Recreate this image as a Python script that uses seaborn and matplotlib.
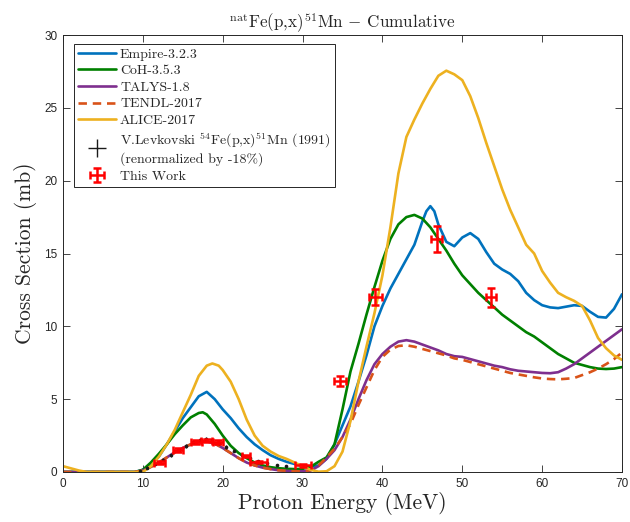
import numpy as np
import pandas as pd
import matplotlib
matplotlib.use("Agg")
import matplotlib.pyplot as plt
import seaborn as sns
from matplotlib.lines import Line2D

# ---------------- data ----------------
empire_E = [0, 9, 10, 11, 12, 13, 14, 15, 16, 17, 18, 19, 20, 21, 22, 23, 24, 25, 26, 27, 28, 29, 30, 31, 32,
            33, 34, 35, 36, 37, 38, 39, 40, 41, 42, 43, 44, 45, 45.5, 46, 46.5, 47, 48, 49, 50, 51, 52, 53, 54,
            55, 56, 57, 58, 59, 60, 61, 62, 63, 64, 65, 66, 67, 68, 69, 70]
empire_xs = [0, 0, 0.15, 0.55, 1.05, 1.9, 2.8, 3.7, 4.45, 5.2, 5.5, 5.0, 4.3, 3.7, 3.0, 2.4, 1.9, 1.5, 1.15, 0.9,
             0.7, 0.55, 0.42, 0.35, 0.45, 0.9, 1.9, 3.2, 4.5, 6.2, 8.0, 10.0, 11.4, 12.6, 13.6, 14.6, 15.6, 17.2,
             17.9, 18.25, 17.9, 17.0, 15.8, 15.5, 16.1, 16.4, 16.0, 15.1, 14.3, 13.9, 13.6, 13.1, 12.3, 11.8, 11.45,
             11.3, 11.25, 11.35, 11.45, 11.4, 11.0, 10.65, 10.6, 11.2, 12.2]

coh_E = [0, 9, 10, 11, 12, 13, 14, 15, 16, 17, 17.5, 18, 19, 20, 21, 22, 23, 24, 25, 26, 27, 28, 29, 30, 31, 32,
         33, 34, 35, 36, 37, 38, 39, 40, 41, 42, 43, 44, 45, 46, 47, 48, 49, 50, 51, 52, 53, 54, 55, 56, 57, 58,
         59, 60, 61, 62, 63, 64, 65, 66, 67, 68, 69, 70]
coh_xs = [0, 0, 0.15, 0.65, 1.25, 1.9, 2.6, 3.2, 3.75, 4.05, 4.1, 3.95, 3.3, 2.5, 1.8, 1.3, 0.95, 0.65, 0.45, 0.33,
          0.26, 0.22, 0.2, 0.22, 0.35, 0.7, 1.0, 1.9, 4.3, 6.9, 8.8, 10.8, 12.7, 14.5, 16.0, 17.0, 17.5, 17.65,
          17.4, 16.8, 16.0, 15.2, 14.3, 13.5, 12.9, 12.3, 11.8, 11.3, 10.8, 10.4, 10.0, 9.6, 9.3, 8.9, 8.5, 8.1,
          7.8, 7.5, 7.35, 7.2, 7.1, 7.07, 7.1, 7.2]

talys_E = [0, 9, 10, 11, 12, 13, 14, 15, 16, 17, 18, 19, 20, 21, 22, 23, 24, 25, 26, 27, 28, 29, 30, 31, 32, 33,
           34, 35, 36, 37, 38, 39, 40, 41, 42, 43, 44, 45, 46, 47, 48, 49, 50, 51, 52, 53, 54, 55, 56, 57, 58, 59,
           60, 61, 62, 63, 64, 65, 66, 67, 68, 69, 70]
talys_xs = [0, 0, 0.1, 0.35, 0.65, 1.0, 1.35, 1.65, 1.9, 2.05, 2.1, 1.95, 1.65, 1.3, 0.95, 0.65, 0.45, 0.3, 0.2,
            0.12, 0.08, 0.05, 0.05, 0.1, 0.4, 0.9, 1.5, 2.4, 3.6, 5.0, 6.3, 7.4, 8.1, 8.6, 8.95, 9.05, 8.95, 8.75,
            8.55, 8.35, 8.1, 7.95, 7.9, 7.75, 7.6, 7.45, 7.3, 7.2, 7.05, 6.95, 6.9, 6.85, 6.8, 6.78, 6.85, 7.1,
            7.4, 7.8, 8.2, 8.6, 9.0, 9.4, 9.8]

tendl_E = talys_E
tendl_xs = [0, 0, 0.1, 0.35, 0.65, 1.0, 1.35, 1.65, 1.9, 2.05, 2.1, 1.95, 1.65, 1.3, 0.95, 0.65, 0.45, 0.3, 0.2,
            0.12, 0.08, 0.05, 0.05, 0.12, 0.45, 1.0, 1.6, 2.4, 3.3, 4.6, 5.8, 7.0, 7.9, 8.4, 8.65, 8.7, 8.6, 8.45,
            8.3, 8.15, 8.0, 7.8, 7.7, 7.55, 7.4, 7.25, 7.1, 6.95, 6.8, 6.7, 6.6, 6.5, 6.42, 6.38, 6.36, 6.4, 6.45,
            6.65, 6.85, 7.1, 7.4, 7.75, 8.2]

alice_E = [0, 1, 2, 3, 10, 11, 12, 13, 14, 15, 16, 17, 18, 18.7, 19.5, 20, 21, 22, 23, 24, 25, 26, 27, 28, 29,
           30, 31, 32, 33, 34, 35, 36, 37, 38, 39, 40, 41, 42, 43, 44, 45, 46, 47, 48, 49, 50, 51, 52, 53, 54, 55,
           56, 57, 58, 59, 60, 61, 62, 63, 64, 65, 66, 67, 68, 69, 70]
alice_xs = [0.4, 0.25, 0.1, 0, 0, 0.4, 1.05, 1.9, 2.9, 4.1, 5.3, 6.6, 7.3, 7.45, 7.3, 7.0, 6.2, 5.0, 3.6, 2.5,
            1.8, 1.4, 1.1, 0.9, 0.65, 0.4, 0.15, 0.02, 0.05, 0.4, 1.4, 3.5, 6.2, 8.6, 10.9, 13.5, 16.8, 20.5, 23.0,
            24.2, 25.3, 26.3, 27.2, 27.55, 27.3, 26.9, 25.8, 24.3, 22.6, 21.0, 19.4, 18.0, 16.8, 15.6, 15.0, 13.8,
            13.0, 12.3, 12.0, 11.75, 11.4, 10.4, 9.2, 8.5, 8.0, 7.7]

lev_E = [9.6, 10.5, 11.5, 12.5, 13.5, 14.5, 15.4, 16.3, 17.1, 17.9, 18.7, 19.5, 20.4, 21.4, 22.4, 23.4, 24.4,
         25.6, 26.8, 27.9]
lev_xs = [0.08, 0.3, 0.55, 0.85, 1.15, 1.5, 1.8, 2.05, 2.2, 2.25, 2.2, 2.0, 1.7, 1.45, 1.2, 0.95, 0.75, 0.6,
          0.45, 0.38]
lev_err = [0.05, 0.08, 0.1, 0.1, 0.1, 0.12, 0.12, 0.12, 0.14, 0.14, 0.14, 0.12, 0.12, 0.1, 0.1, 0.08, 0.08,
           0.06, 0.05, 0.05]

tw_E = [12.1, 14.4, 16.7, 18.0, 19.4, 22.9, 24.5, 30.0, 34.7, 39.1, 46.8, 53.6]
tw_xs = [0.65, 1.5, 2.05, 2.15, 2.05, 1.1, 0.7, 0.45, 6.25, 12.0, 16.0, 12.0]
tw_dE = [0.7, 0.6, 0.7, 0.7, 0.6, 0.5, 1.1, 1.0, 0.8, 0.8, 0.7, 0.6]
tw_dxs = [0.12, 0.12, 0.12, 0.12, 0.12, 0.1, 0.08, 0.08, 0.35, 0.55, 0.9, 0.65]

models = [
    ("Empire-3.2.3", empire_E, empire_xs, "#0072BD", "-"),
    ("CoH-3.5.3", coh_E, coh_xs, "#008000", "-"),
    ("TALYS-1.8", talys_E, talys_xs, "#7E2F8E", "-"),
    ("TENDL-2017", tendl_E, tendl_xs, "#D95319", "--"),
    ("ALICE-2017", alice_E, alice_xs, "#EDB120", "-"),
]

# ---------------- style ----------------
sns.set_theme(style="ticks")
plt.rcParams["font.family"] = ["Liberation Sans", "DejaVu Sans"]
plt.rcParams["mathtext.fontset"] = "cm"
plt.rcParams["axes.unicode_minus"] = False

fig = plt.figure(figsize=(6.3, 5.22), dpi=100)
ax = fig.add_axes([63 / 630, 50 / 522, 559 / 630, 437 / 522])

handles = []
for name, E, xs, col, ls in models:
    df = pd.DataFrame({"E": E, "xs": xs})
    sns.lineplot(data=df, x="E", y="xs", ax=ax, color=col, lw=1.9, linestyle=ls,
                 estimator=None, sort=False, zorder=2)
    h = Line2D([], [], color=col, lw=1.9, linestyle=ls)
    if ls == "--":
        h.set_dashes((3.2, 2.2))
    handles.append(h)
for ln in ax.lines:
    if ln.get_linestyle() == "--":
        ln.set_dashes((3.2, 2.2))

ax.errorbar(lev_E, lev_xs, yerr=lev_err, fmt="o", ms=1.6, color="k", ecolor="k", elinewidth=1.0,
            capsize=0, zorder=3)
handles.append(Line2D([], [], color="k", marker="+", ls="none", markersize=13, mew=1.0))

tw = ax.errorbar(tw_E, tw_xs, xerr=tw_dE, yerr=tw_dxs, fmt="none", ecolor="#FF0000", elinewidth=1.8,
                 capsize=3, capthick=1.8, zorder=4)
handles.append(tw)

labels = [m[0] for m in models] + [
    "V.Levkovski $^{54}$Fe(p,x)$^{51}$Mn (1991)\n(renormalized by -18%)",
    "This Work",
]

ax.set_xlim(0, 70)
ax.set_ylim(0, 30)
ax.set_xticks(np.arange(0, 71, 10))
ax.set_yticks(np.arange(0, 31, 5))
ax.tick_params(direction="in", top=True, right=True, length=5, width=0.6, labelsize=8.5,
               colors="#262626", pad=4)
for sp in ax.spines.values():
    sp.set_color("#262626")
    sp.set_linewidth(0.7)

ax.set_xlabel("Proton Energy (MeV)", fontfamily="cmr10", fontsize=15.5, labelpad=2)
ax.set_ylabel("Cross Section (mb)", fontfamily="cmr10", fontsize=15.5, labelpad=5)
ax.set_title(r"$^{\rm nat}$Fe(p,x)$^{51}$Mn $-$ Cumulative", fontfamily="cmr10", fontsize=12.3, pad=5)

leg = ax.legend(handles, labels, loc="upper left", bbox_to_anchor=(0.02, 0.98),
                prop={"family": "cmr10", "size": 10}, frameon=True, fancybox=False,
                edgecolor="#262626", framealpha=1, handlelength=2.7, handletextpad=0.3,
                labelspacing=0.28, borderpad=0.3, borderaxespad=0.0)
leg.get_frame().set_linewidth(0.7)

fig.savefig("out.png", dpi=100)
